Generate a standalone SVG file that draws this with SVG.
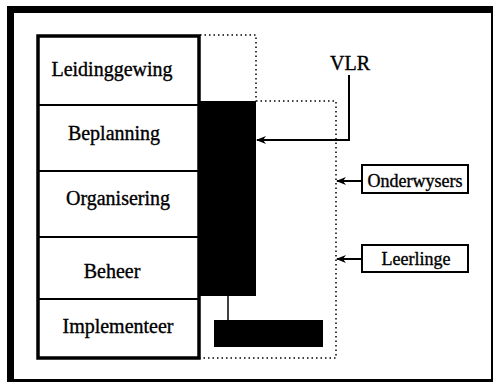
<svg xmlns="http://www.w3.org/2000/svg" width="493" height="382" viewBox="0 0 493 382">
<defs>
<marker id="ah" markerWidth="10" markerHeight="8" refX="9" refY="4" orient="auto" markerUnits="userSpaceOnUse">
<path d="M0,0 L10,4 L0,8 L3,4 Z" fill="#000"/>
</marker>
</defs>
<style>
.lbl{font-family:"Liberation Serif","Times New Roman",serif;font-size:20px;fill:#000;stroke:#000;stroke-width:0.35;text-anchor:middle}
.sm{font-size:18px}
.dot{fill:none;stroke:#000;stroke-width:1.5;stroke-dasharray:1.5 3}
.conn{fill:none;stroke:#000;stroke-width:2}
.box{fill:#fff;stroke:#000;stroke-width:2}
</style>
<rect width="493" height="382" fill="#fff"/>
<rect id="frame" x="10.5" y="9.5" width="484" height="373" fill="none" stroke="#000" stroke-width="7"/>
<g id="dotted-areas">
<path class="dot" d="M200,35 H256 V101"/>
<path class="dot" d="M256,101 H336 V358 H200"/>
</g>
<g id="column">
<rect x="38" y="36" width="161" height="322" fill="#fff" stroke="#000" stroke-width="3.5"/>
<line x1="38" y1="105" x2="199" y2="105" stroke="#000" stroke-width="2"/>
<line x1="38" y1="171" x2="199" y2="171" stroke="#000" stroke-width="2"/>
<line x1="38" y1="237" x2="199" y2="237" stroke="#000" stroke-width="2"/>
<line x1="38" y1="299" x2="199" y2="299" stroke="#000" stroke-width="2"/>
</g>
<g id="n-leidinggewing"><text class="lbl" x="112" y="76">Leidinggewing</text></g>
<g id="n-beplanning"><text class="lbl" x="114" y="140">Beplanning</text></g>
<g id="n-organisering"><text class="lbl" x="118" y="205">Organisering</text></g>
<g id="n-beheer"><text class="lbl" x="112" y="278">Beheer</text></g>
<g id="n-implementeer"><text class="lbl" x="118" y="333">Implementeer</text></g>
<g id="n-bar"><rect x="199" y="101" width="57" height="195" fill="#000"/></g>
<g id="n-bottombox"><rect x="214" y="320" width="109" height="27" fill="#000"/></g>
<g id="n-vlr"><text class="lbl" x="350" y="70">VLR</text></g>
<g id="n-onderwysers">
<rect class="box" x="362" y="165" width="106" height="28"/>
<text class="lbl sm" x="415" y="187">Onderwysers</text>
</g>
<g id="n-leerlinge">
<rect class="box" x="362" y="245" width="106" height="27"/>
<text class="lbl sm" x="416" y="265">Leerlinge</text>
</g>
<g id="connectors">
<path class="conn" d="M349,75 V140 H257" marker-end="url(#ah)"/>
<path class="conn" d="M362,181 H337" marker-end="url(#ah)"/>
<path class="conn" d="M362,259 H337" marker-end="url(#ah)"/>
<line x1="228" y1="296" x2="228" y2="320" stroke="#000" stroke-width="1.5"/>
</g>
</svg>
